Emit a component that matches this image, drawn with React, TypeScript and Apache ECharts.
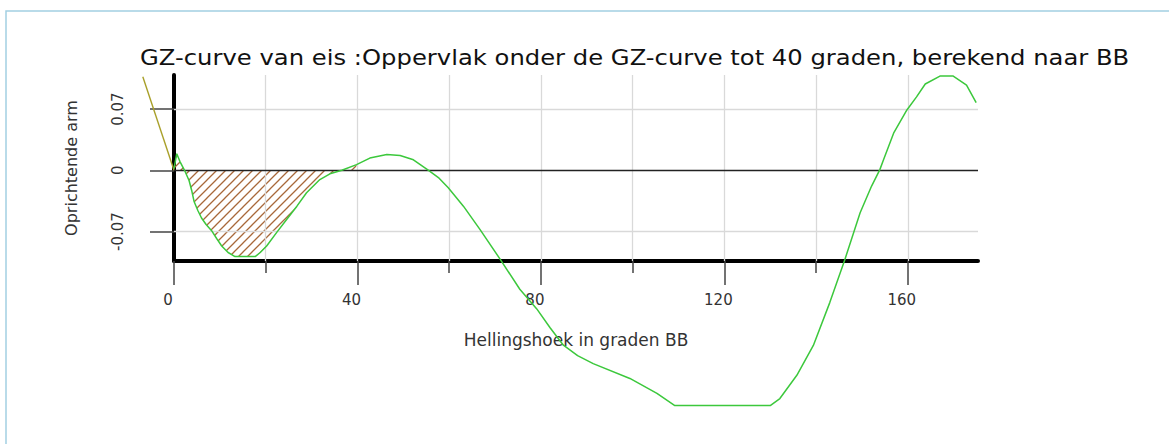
import React, { useEffect, useRef } from 'react';
import * as echarts from 'echarts';

// ---- data ----
const TITLE = 'GZ-curve van eis :Oppervlak onder de GZ-curve tot 40 graden, berekend naar BB';
const X_NAME = 'Hellingshoek in graden BB';
const Y_NAME = 'Oprichtende arm';

// GZ curve: heel angle (deg) and righting arm
const gzX = [0, 0.6, 1.3, 2.3, 3.3, 3.9, 4.4, 5.2, 6.0, 7.0, 8.2, 9.3, 10.4, 11.8, 13.3, 17.7, 18.8, 20.2, 22.4, 24.6, 26.8, 28.9, 31.8, 34.0, 36.6, 39.8, 42.7, 46.4, 49.3, 52.2, 55.5, 57.8, 59.8, 63.1, 66.7, 71.1, 75.4, 79.1, 82.0, 84.9, 88.0, 91.4, 99.4, 105.3, 109.2, 130.0, 132.1, 135.8, 139.4, 143.0, 146.3, 149.6, 152.1, 153.9, 154.7, 156.9, 159.8, 161.9, 163.8, 167.0, 169.9, 172.8, 174.9];
const gzY = [0.002, 0.019, 0.01, 0.0, -0.012, -0.024, -0.036, -0.046, -0.0545, -0.062, -0.069, -0.078, -0.0865, -0.094, -0.0986, -0.0986, -0.094, -0.0865, -0.071, -0.056, -0.041, -0.0257, -0.0106, -0.004, 0.0, 0.0065, 0.014, 0.018, 0.017, 0.012, 0.0, -0.009, -0.02, -0.041, -0.0675, -0.1016, -0.136, -0.1585, -0.18, -0.2, -0.212, -0.221, -0.238, -0.255, -0.269, -0.269, -0.261, -0.2344, -0.2003, -0.151, -0.1016, -0.0485, -0.018, 0.0008, 0.012, 0.0425, 0.069, 0.084, 0.0987, 0.1078, 0.1078, 0.0975, 0.0774];

// area under the curve is hatched up to this angle
const hatchLimit = 40;

// olive reference line near the origin
const refX = [-6.8, 0];
const refY = [0.107, 0];

// axis ticks and grid
const xMajorTicks = [0, 40, 80, 120, 160];
const xMinorTicks = [20, 60, 100, 140];
const xGridValues = [20, 40, 60, 80, 100, 120, 140, 160];
const yTicks = [-0.07, 0, 0.07];
const yGridValues = [-0.07, 0.07];
const xMin = 0;
const xMax = 175.3;
const xMinWide = -7.414;
const yMin = -0.1037;
const yMax = 0.109;

const FONT = '"DejaVu Sans", "Liberation Sans", Arial, sans-serif';

export default function App() {
  const ref = useRef<HTMLDivElement>(null);

  useEffect(() => {
    if (!ref.current) return;
    const chart = echarts.init(ref.current, null, { renderer: 'svg' });

    // hatch pattern
    const tile = 9;
    const cv = document.createElement('canvas');
    cv.width = tile;
    cv.height = tile;
    const ctx = cv.getContext('2d')!;
    ctx.strokeStyle = '#a8683a';
    ctx.lineWidth = 1.3;
    ctx.beginPath();
    ctx.moveTo(-1, tile + 1);
    ctx.lineTo(tile + 1, -1);
    ctx.moveTo(-1, 1);
    ctx.lineTo(1, -1);
    ctx.moveTo(tile - 1, tile + 1);
    ctx.lineTo(tile + 1, tile - 1);
    ctx.stroke();

    // title stretch to match reference letter spacing
    const titleFont = '21px ' + FONT;
    const mc = document.createElement('canvas').getContext('2d')!;
    mc.font = titleFont;
    const tw = mc.measureText(TITLE).width || 900;
    const titleScale = 990 / tw;

    const curve = gzX.map((x, i) => [x, gzY[i]]);
    const hatch = curve.filter((p) => p[0] <= hatchLimit);
    const refLine = refX.map((x, i) => [x, refY[i]]);

    const gridMarks: any[] = [
      ...xGridValues.map((v) => ({ xAxis: v })),
      ...yGridValues.map((v) => ({ yAxis: v })),
    ];

    chart.setOption({
      animation: false,
      backgroundColor: '#ffffff',
      grid: [
        { left: 174, top: 75, width: 804, height: 186, containLabel: false },
        { left: 140, top: 75, width: 838, height: 186, containLabel: false },
      ],
      graphic: [
        {
          type: 'rect',
          silent: true,
          z: -10,
          shape: { x: 6, y: 11, width: 1200, height: 500 },
          style: { fill: 'none', stroke: '#a3cfe2', lineWidth: 1.5 },
        },
        {
          type: 'text',
          silent: true,
          x: 140,
          y: 58,
          scaleX: titleScale,
          style: {
            text: TITLE,
            font: titleFont,
            fill: '#111111',
            align: 'left',
            verticalAlign: 'middle',
          },
        },
      ],
      xAxis: [
        {
          type: 'value',
          gridIndex: 0,
          min: xMin,
          max: xMax,
          name: X_NAME,
          nameLocation: 'middle',
          nameGap: 70,
          nameTextStyle: { fontFamily: FONT, fontSize: 17, color: '#333333' },
          axisLine: { show: true, onZero: false, lineStyle: { color: '#000000', width: 4 } },
          axisTick: {
            show: true,
            customValues: xMajorTicks,
            length: 24,
            lineStyle: { color: '#444444', width: 1.5 },
          },
          axisLabel: {
            show: true,
            customValues: xMajorTicks,
            margin: 31,
            fontFamily: FONT,
            fontSize: 15,
            color: '#333333',
            padding: [0, 12, 0, 0],
          },
          splitLine: { show: false },
        },
        {
          type: 'value',
          gridIndex: 0,
          min: xMin,
          max: xMax,
          position: 'bottom',
          axisLine: { show: false, onZero: false },
          axisTick: {
            show: true,
            customValues: xMinorTicks,
            length: 12,
            lineStyle: { color: '#444444', width: 1.5 },
          },
          axisLabel: { show: false },
          splitLine: { show: false },
        },
        {
          type: 'value',
          gridIndex: 1,
          min: xMinWide,
          max: xMax,
          show: false,
        },
      ],
      yAxis: [
        {
          type: 'value',
          gridIndex: 0,
          min: yMin,
          max: yMax,
          name: Y_NAME,
          nameLocation: 'middle',
          nameGap: 95,
          nameTextStyle: { fontFamily: FONT, fontSize: 16, color: '#333333' },
          axisLine: { show: true, onZero: false, lineStyle: { color: '#000000', width: 4 } },
          axisTick: {
            show: true,
            customValues: yTicks,
            length: 24,
            lineStyle: { color: '#444444', width: 1.5 },
          },
          axisLabel: {
            show: true,
            customValues: yTicks,
            rotate: 90,
            margin: 49,
            fontFamily: FONT,
            fontSize: 15,
            color: '#333333',
            formatter: (v: number) => (Math.abs(v) < 1e-9 ? '0' : v.toFixed(2)),
          },
          splitLine: { show: false },
        },
        {
          type: 'value',
          gridIndex: 1,
          min: yMin,
          max: yMax,
          show: false,
        },
      ],
      series: [
        {
          name: 'grid',
          type: 'line',
          data: [],
          z: 1,
          silent: true,
          markLine: {
            silent: true,
            symbol: 'none',
            label: { show: false },
            lineStyle: { color: '#d9d9d9', width: 1.3, type: 'solid' },
            data: gridMarks,
          },
        },
        {
          name: 'hatch',
          type: 'line',
          data: hatch,
          z: 2,
          symbol: 'none',
          silent: true,
          lineStyle: { width: 0, opacity: 0 },
          areaStyle: { color: { image: cv, repeat: 'repeat' } as any, opacity: 1 },
        },
        {
          name: 'zero',
          type: 'line',
          data: [],
          z: 3,
          silent: true,
          markLine: {
            silent: true,
            symbol: 'none',
            label: { show: false },
            lineStyle: { color: '#222222', width: 1.3, type: 'solid' },
            data: [{ yAxis: 0 }],
          },
        },
        {
          name: 'ref',
          type: 'line',
          xAxisIndex: 2,
          yAxisIndex: 1,
          data: refLine,
          clip: false,
          z: 4,
          symbol: 'none',
          silent: true,
          lineStyle: { color: '#a9a02a', width: 1.4 },
        },
        {
          name: 'GZ',
          type: 'line',
          data: curve,
          clip: false,
          z: 5,
          symbol: 'none',
          silent: true,
          lineStyle: { color: '#3cc83c', width: 1.5 },
        },
      ],
    });

    return () => chart.dispose();
  }, []);

  return (
    <div
      ref={ref}
      style={{ position: 'absolute', left: 0, top: 0, width: 1169, height: 444 }}
    />
  );
}
